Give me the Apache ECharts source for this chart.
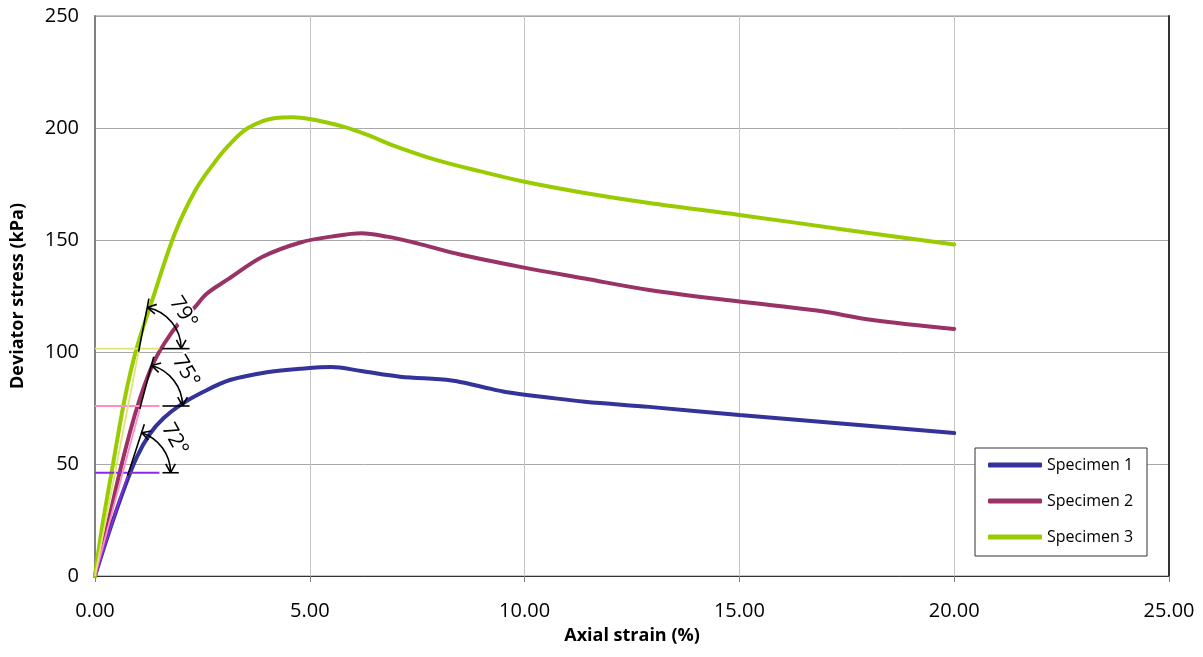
<!DOCTYPE html>
<html>
<head>
<meta charset="utf-8">
<script src="https://cdn.jsdelivr.net/npm/echarts@6/dist/echarts.min.js"></script>
<style>
  html, body { margin: 0; padding: 0; background: #fff; }
  #chart { width: 1203px; height: 657px; }
</style>
</head>
<body>
<div id="chart"></div>
<script>
// Triaxial test results: deviator stress vs axial strain
const seriesNames = ['Specimen 1', 'Specimen 2', 'Specimen 3'];
const seriesColors = ['#333399', '#993366', '#99cc00'];

const strain1 = [0, 0.3, 0.66, 0.97, 1.28, 1.6, 2.0, 2.5, 3.14, 4.0, 4.77, 5.5, 6.2, 7.1, 8.3, 9.0, 9.6, 10.5, 11.4, 12.9, 15.0, 17.5, 20.0];
const stress1 = [0, 18, 38, 53, 63.5, 70.5, 76.5, 82, 87.5, 91, 92.5, 93.3, 91.5, 89, 87.3, 84.5, 82, 79.8, 77.8, 75.5, 71.9, 67.9, 63.8];

const strain2 = [0, 0.26, 0.61, 0.96, 1.31, 1.62, 2.0, 2.3, 2.6, 3.1, 3.9, 4.8, 5.5, 6.2, 6.8, 7.5, 8.5, 9.9, 11.4, 12.9, 15.0, 16.8, 18.1, 20.0];
const stress2 = [0, 20, 49, 74, 93, 104, 114, 119.5, 126, 132.5, 142.5, 149, 151.5, 153, 151.5, 148.5, 143.5, 138, 132.8, 127.7, 122.5, 118.5, 114.3, 110.3];

const strain3 = [0, 0.15, 0.42, 0.69, 0.96, 1.33, 1.86, 2.33, 2.72, 3.1, 3.56, 4.2, 4.6, 5.0, 5.8, 6.4, 6.9, 7.9, 9.0, 10.0, 11.4, 12.9, 15.0, 17.5, 20.0];
const stress3 = [0, 20, 50, 79, 101, 123, 153, 172, 183, 192, 200, 204.5, 204.8, 204, 200.5, 196.5, 192.5, 186, 180.5, 176, 171, 166.5, 161.2, 154.5, 148];

// Initial-slope construction for each specimen
const refStress = [46.1, 75.9, 101.5];
const refAngle = [72, 75, 79];
const refColor = ['#8a2be2', '#ff8cc6', '#e2e27a'];
const refLabel = ['72°', '75°', '79°'];
const refLineEnd = 1.5;
const refBlackEnd = [1.95, 2.2, 2.2];

const xTicks = { min: 0, max: 25, interval: 5 };
const yTicks = { min: 0, max: 250, interval: 50 };

const zip = (xs, ys) => xs.map((x, i) => [x, ys[i]]);
const curves = [zip(strain1, stress1), zip(strain2, stress2), zip(strain3, stress3)];

const FONT = '"Open Sans", "Liberation Sans", sans-serif';

function renderAnnotations(params, api) {
  const O = api.coord([0, 0]);
  const R = 42;
  const children = [];
  const black = { stroke: '#000', lineWidth: 1.6, fill: null };
  for (let i = 0; i < refStress.length; i++) {
    const yp = api.coord([0, refStress[i]])[1];
    const th = refAngle[i] * Math.PI / 180;
    const px = O[0] + (O[1] - yp) / Math.tan(th);
    const c = Math.cos(th), s = Math.sin(th);
    const hEnd = api.coord([refLineEnd, refStress[i]])[0];
    const bStart = hEnd + 3;
    const bEnd = api.coord([refBlackEnd[i], refStress[i]])[0];

    // angle label
    const lr = 57, la = th / 2;
    children.push({
      type: 'text', z2: 1,
      x: px + lr * Math.cos(la), y: yp - lr * Math.sin(la),
      rotation: -(Math.PI / 2 - th / 2) - 0.12,
      style: { text: refLabel[i], font: '21px ' + FONT, fill: '#000',
               align: 'center', verticalAlign: 'middle',
               backgroundColor: '#fff', padding: [0, 1] }
    });
    // coloured slope line and reference level
    children.push({ type: 'line', z2: 2, shape: { x1: O[0], y1: O[1], x2: px, y2: yp },
      style: { stroke: refColor[i], lineWidth: 1.8 } });
    children.push({ type: 'line', z2: 2, shape: { x1: O[0], y1: yp, x2: hEnd, y2: yp },
      style: { stroke: refColor[i], lineWidth: 1.8 } });
    // black extensions
    children.push({ type: 'line', z2: 3, shape: { x1: bStart, y1: yp, x2: bEnd, y2: yp }, style: black });
    children.push({ type: 'line', z2: 3,
      shape: { x1: px - 3 * c, y1: yp + 3 * s, x2: px + (R + 9) * c, y2: yp - (R + 9) * s }, style: black });
    // arc
    children.push({ type: 'arc', z2: 3,
      shape: { cx: px, cy: yp, r: R, startAngle: -th, endAngle: 0, clockwise: true }, style: black });
    // arrow heads
    const ah = 10, aw = 0.5;
    const A = [px + R * c, yp - R * s];
    const dA = [-s, -c]; // direction of travel at upper end
    const B = [px + R, yp];
    const dB = [0, 1];
    [[A, dA], [B, dB]].forEach(([P, d]) => {
      const bx = -d[0], by = -d[1];
      [aw, -aw].forEach(a => {
        const rx = bx * Math.cos(a) - by * Math.sin(a);
        const ry = bx * Math.sin(a) + by * Math.cos(a);
        children.push({ type: 'line', z2: 3,
          shape: { x1: P[0], y1: P[1], x2: P[0] + ah * rx, y2: P[1] + ah * ry }, style: black });
      });
    });
  }
  return { type: 'group', children };
}

const chart = echarts.init(document.getElementById('chart'), null, { renderer: 'canvas' });

chart.setOption({
  animation: false,
  backgroundColor: '#fff',
  grid: { left: 95, right: 34, top: 16, bottom: 81, show: true, borderColor: '#8a8a8a', borderWidth: 1 },
  legend: {
    data: seriesNames,
    orient: 'vertical',
    left: 975, top: 448,
    backgroundColor: '#fff',
    borderColor: '#333', borderWidth: 1, borderRadius: 0,
    padding: [7, 8, 9, 13],
    itemWidth: 54, itemHeight: 5, itemGap: 16,
    icon: 'roundRect',
    textStyle: { fontFamily: FONT, fontSize: 16, color: '#000', width: 92, lineHeight: 20 }
  },
  xAxis: {
    type: 'value', min: xTicks.min, max: xTicks.max, interval: xTicks.interval,
    name: 'Axial strain (%)', nameLocation: 'middle', nameGap: 51,
    nameTextStyle: { fontFamily: FONT, fontSize: 18, fontWeight: 'bold', color: '#000' },
    axisLine: { lineStyle: { color: '#333', width: 1 } },
    axisTick: { show: true, length: 6, lineStyle: { color: '#808080' } },
    axisLabel: { margin: 25, fontFamily: FONT, fontSize: 20, color: '#000', formatter: v => v.toFixed(2) },
    splitLine: { show: true, lineStyle: { color: '#c4c4c4', width: 1 } }
  },
  yAxis: [{
    type: 'value', min: yTicks.min, max: yTicks.max, interval: yTicks.interval,
    name: 'Deviator stress (kPa)', nameLocation: 'middle', nameGap: 68,
    nameTextStyle: { fontFamily: FONT, fontSize: 18, fontWeight: 'bold', color: '#000' },
    axisLine: { show: true, lineStyle: { color: '#808080', width: 2 } },
    axisTick: { show: false },
    axisLabel: { margin: 16, fontFamily: FONT, fontSize: 20, color: '#000' },
    splitLine: { show: true, lineStyle: { color: '#a8a8a8', width: 1 } }
  }, {
    type: 'value', position: 'right', min: yTicks.min, max: yTicks.max, interval: yTicks.interval,
    axisLine: { show: true, lineStyle: { color: '#333', width: 2 } },
    axisTick: { show: false }, axisLabel: { show: false }, splitLine: { show: false }
  }],
  series: [
    ...curves.map((d, i) => ({
      name: seriesNames[i], type: 'line', data: d, smooth: 0.35,
      showSymbol: false, symbol: 'none', z: 3,
      lineStyle: { color: seriesColors[i], width: 4, cap: 'round' },
      itemStyle: { color: seriesColors[i] }
    })),
    {
      type: 'custom', name: 'slopes', data: [[0, 0]], z: 6, silent: true, clip: false,
      renderItem: renderAnnotations
    }
  ]
});
</script>
</body>
</html>
